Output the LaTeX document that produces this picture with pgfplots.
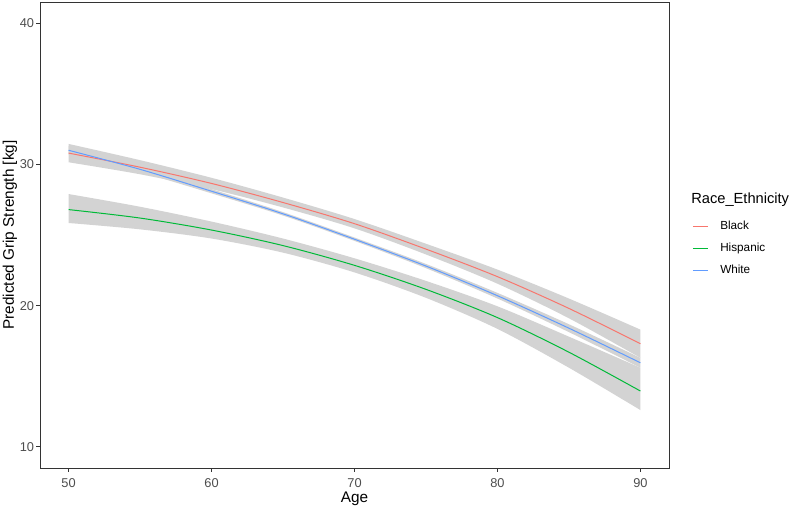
\documentclass[border=0pt]{standalone}
\usepackage{fontspec}
\setmainfont{Liberation Sans}
\usepackage{pgfplots}
\pgfplotsset{compat=1.18}
\usepackage{pgfplotstable}
\usepgfplotslibrary{fillbetween}
\definecolor{cBlack}{HTML}{F8766D}
\definecolor{cHisp}{HTML}{00BA38}
\definecolor{cWhite}{HTML}{619CFF}
\definecolor{ribbon}{HTML}{D3D3D3}
\definecolor{tickgray}{HTML}{4D4D4D}
\definecolor{framegray}{HTML}{333333}

\pgfplotstableread{
age y lo hi
50 30.8 30.15 31.45
55 29.8 29.3 30.3
60 28.65 28.25 29.05
65 27.3 26.95 27.65
70 25.8 25.47 26.13
75 24.0 23.62 24.38
80 22.05 21.55 22.55
85 19.8 19.1 20.5
90 17.3 16.3 18.3
}\blacktab

\pgfplotstableread{
age y lo hi
50 31.0 30.7 31.3
55 29.65 29.45 29.85
60 28.1 27.95 28.25
65 26.5 26.38 26.62
70 24.7 24.58 24.82
75 22.8 22.65 22.95
80 20.7 20.5 20.9
85 18.4 18.12 18.68
90 15.95 15.6 16.3
}\whitetab

\pgfplotstableread{
age y lo hi
50 26.8 25.85 27.9
55 26.2 25.4 27.0
60 25.35 24.75 25.95
65 24.25 23.75 24.75
70 22.85 22.35 23.35
75 21.15 20.55 21.75
80 19.15 18.35 19.95
85 16.7 15.6 17.8
90 13.95 12.6 15.6
}\hisptab

\begin{document}
\begin{tikzpicture}
\begin{axis}[
  scale only axis, width=471.75pt, height=349.5pt,
  xmin=48, xmax=92, ymin=8.5, ymax=41.5,
  clip=false,
  xtick={50,60,70,80,90}, ytick={10,20,30,40},
  tick align=outside, xtick pos=left, ytick pos=left,
  major tick length=2.75pt,
  every tick/.style={framegray, line width=0.5pt},
  axis line style={framegray, line width=0.6pt},
  /pgf/number format/assume math mode=true,
  ticklabel style={font=\fontsize{9.6}{11}\selectfont, text=tickgray},
  xticklabel style={anchor=north, inner sep=0pt, yshift=-5pt},
  yticklabel style={anchor=east, inner sep=0pt, xshift=-1.5pt},
  xlabel={Age}, ylabel={Predicted Grip Strength [kg]},
  label style={font=\fontsize{11.5}{13}\selectfont},
  xlabel style={at={(axis description cs:0.5,0)}, anchor=base, yshift=-26.25pt},
  ylabel style={at={(axis description cs:0,0.5)}, anchor=center, yshift=22.5pt},
  legend style={draw=none, fill=none, at={(axis description cs:1,0.472)}, anchor=west,
    xshift=17.25pt, font=\fontsize{8.8}{10}\selectfont, row sep=8.5pt, inner sep=0pt,
    nodes={inner sep=0pt, text height=6.3pt, text depth=1.7pt},
    /tikz/every odd column/.append style={column sep=9pt}},
  legend image code/.code={\draw[#1] (0pt,0pt) -- (11.25pt,0pt);},
  legend cell align=left,
]
% ribbons
\addplot[draw=none, smooth, name path=bl, forget plot] table[x=age, y=lo] {\blacktab};
\addplot[draw=none, smooth, name path=bh, forget plot] table[x=age, y=hi] {\blacktab};
\addplot[ribbon, forget plot] fill between[of=bl and bh];
\addplot[draw=none, smooth, name path=hl, forget plot] table[x=age, y=lo] {\hisptab};
\addplot[draw=none, smooth, name path=hh, forget plot] table[x=age, y=hi] {\hisptab};
\addplot[ribbon, forget plot] fill between[of=hl and hh];
\addplot[draw=none, smooth, name path=wl, forget plot] table[x=age, y=lo] {\whitetab};
\addplot[draw=none, smooth, name path=wh, forget plot] table[x=age, y=hi] {\whitetab};
\addplot[ribbon, forget plot] fill between[of=wl and wh];
% lines
\addplot[cBlack, line width=0.75pt, smooth] table[x=age, y=y] {\blacktab};
\addlegendentry{Black}
\addplot[cHisp, line width=0.75pt, smooth] table[x=age, y=y] {\hisptab};
\addlegendentry{Hispanic}
\addplot[cWhite, line width=0.75pt, smooth] table[x=age, y=y] {\whitetab};
\addlegendentry{White}
\node[anchor=west, inner sep=0pt, font=\fontsize{11}{13}\selectfont, xshift=16.5pt]
  at (axis description cs:1,0.575) {Race\_Ethnicity};
\end{axis}
\pgfresetboundingbox
\path[use as bounding box] ([xshift=-30pt,yshift=-31.5pt]current axis.south west)
  rectangle ([xshift=90.75pt,yshift=1.5pt]current axis.north east);
\end{tikzpicture}
\end{document}
